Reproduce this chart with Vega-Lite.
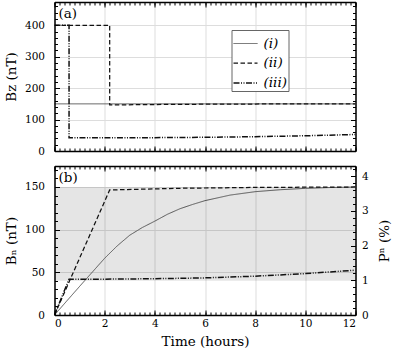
{
  "$schema": "https://vega.github.io/schema/vega-lite/v6.json",
  "padding": {"left": 3.5, "top": 1, "right": 0, "bottom": 0},
  "spacing": 8,
  "datasets": {
    "a": [
      {"s": "(i)", "k": 1, "t": 0, "v": 150},
      {"s": "(i)", "k": 2, "t": 12, "v": 150},
      {"s": "(ii)", "k": 1, "t": 0, "v": 400},
      {"s": "(ii)", "k": 2, "t": 2.2, "v": 400},
      {"s": "(ii)", "k": 3, "t": 2.2, "v": 146.5},
      {"s": "(ii)", "k": 4, "t": 5, "v": 148.5},
      {"s": "(ii)", "k": 5, "t": 8, "v": 149.5},
      {"s": "(ii)", "k": 6, "t": 12, "v": 150},
      {"s": "(iii)", "k": 1, "t": 0, "v": 400},
      {"s": "(iii)", "k": 2, "t": 0.58, "v": 400},
      {"s": "(iii)", "k": 3, "t": 0.58, "v": 42},
      {"s": "(iii)", "k": 4, "t": 2, "v": 42},
      {"s": "(iii)", "k": 5, "t": 4, "v": 42.5},
      {"s": "(iii)", "k": 6, "t": 6, "v": 43.5},
      {"s": "(iii)", "k": 7, "t": 8, "v": 45.5},
      {"s": "(iii)", "k": 8, "t": 10, "v": 48.5},
      {"s": "(iii)", "k": 9, "t": 12, "v": 52.5}
    ],
    "b": [
      {"s": "(i)", "k": 1, "t": 0, "v": 0},
      {"s": "(i)", "k": 2, "t": 0.5, "v": 16.8},
      {"s": "(i)", "k": 3, "t": 1, "v": 33.5},
      {"s": "(i)", "k": 4, "t": 1.5, "v": 50},
      {"s": "(i)", "k": 5, "t": 2, "v": 66.5},
      {"s": "(i)", "k": 6, "t": 2.5, "v": 81},
      {"s": "(i)", "k": 7, "t": 3, "v": 93.5},
      {"s": "(i)", "k": 8, "t": 3.5, "v": 102.5},
      {"s": "(i)", "k": 9, "t": 4, "v": 110},
      {"s": "(i)", "k": 10, "t": 4.5, "v": 118},
      {"s": "(i)", "k": 11, "t": 5, "v": 124.5},
      {"s": "(i)", "k": 12, "t": 5.5, "v": 129.5},
      {"s": "(i)", "k": 13, "t": 6, "v": 134},
      {"s": "(i)", "k": 14, "t": 7, "v": 140.5},
      {"s": "(i)", "k": 15, "t": 8, "v": 144.5},
      {"s": "(i)", "k": 16, "t": 9, "v": 146.8},
      {"s": "(i)", "k": 17, "t": 10, "v": 148.4},
      {"s": "(i)", "k": 18, "t": 11, "v": 149.4},
      {"s": "(i)", "k": 19, "t": 12, "v": 150},
      {"s": "(ii)", "k": 1, "t": 0, "v": 0},
      {"s": "(ii)", "k": 2, "t": 2.2, "v": 146.5},
      {"s": "(ii)", "k": 3, "t": 5, "v": 148.5},
      {"s": "(ii)", "k": 4, "t": 8, "v": 149.5},
      {"s": "(ii)", "k": 5, "t": 12, "v": 150},
      {"s": "(iii)", "k": 1, "t": 0, "v": 0},
      {"s": "(iii)", "k": 2, "t": 0.58, "v": 42},
      {"s": "(iii)", "k": 3, "t": 2, "v": 42},
      {"s": "(iii)", "k": 4, "t": 4, "v": 42.5},
      {"s": "(iii)", "k": 5, "t": 6, "v": 43.5},
      {"s": "(iii)", "k": 6, "t": 8, "v": 45.5},
      {"s": "(iii)", "k": 7, "t": 10, "v": 48.5},
      {"s": "(iii)", "k": 8, "t": 12, "v": 52.5}
    ],
    "band": [{"t0": 0, "t1": 12, "lo": 40, "hi": 150}]
  },
  "vconcat": [
    {
      "width": 301,
      "height": 149,
      "title": {"text": "(a)", "anchor": "start", "frame": "group", "offset": -19, "dx": 4},
      "layer": [
        {
          "data": {"name": "a"},
          "mark": {"type": "line", "clip": true},
          "encoding": {
            "x": {"field": "t", "type": "quantitative", "scale": {"domain": [0, 12], "nice": false, "zero": false},
              "axis": {"orient": "bottom", "values": [0, 2, 4, 6, 8, 10, 12], "labels": false, "tickSize": -5, "grid": true, "domain": false, "title": null}},
            "y": {"field": "v", "type": "quantitative", "scale": {"domain": [0, 474], "nice": false},
              "axis": {"orient": "left", "values": [0, 100, 200, 300, 400], "tickSize": -5, "labelPadding": 15, "grid": true, "domain": false, "title": "Bz (nT)", "titlePadding": 6, "titleFontWeight": "normal"}},
            "order": {"field": "k", "type": "quantitative"},
            "color": {"field": "s", "type": "nominal", "scale": {"domain": ["(i)", "(ii)", "(iii)"], "range": ["#555555", "#111111", "#111111"]},
              "legend": {"orient": "none", "legendX": 177, "legendY": 28, "title": null}},
            "strokeDash": {"field": "s", "type": "nominal", "scale": {"domain": ["(i)", "(ii)", "(iii)"], "range": [[1, 0], [4.5, 2.5], [6, 1.5, 1, 1.5, 1, 1.5]]}},
            "strokeWidth": {"field": "s", "type": "nominal", "scale": {"domain": ["(i)", "(ii)", "(iii)"], "range": [1, 1.5, 1.3]}, "legend": null}
          }
        },
        {
          "data": {"name": "a"},
          "mark": {"type": "point", "opacity": 0, "size": 0, "clip": true},
          "encoding": {
            "x": {"field": "t", "type": "quantitative", "scale": {"domain": [0, 12], "nice": false, "zero": false},
              "axis": {"orient": "bottom", "values": [0,0.2,0.4,0.6,0.8,1,1.2,1.4,1.6,1.8,2,2.2,2.4,2.6,2.8,3,3.2,3.4,3.6,3.8,4,4.2,4.4,4.6,4.8,5,5.2,5.4,5.6,5.8,6,6.2,6.4,6.6,6.8,7,7.2,7.4,7.6,7.8,8,8.2,8.4,8.6,8.8,9,9.2,9.4,9.6,9.8,10,10.2,10.4,10.6,10.8,11,11.2,11.4,11.6,11.8,12], "labels": false, "tickSize": -3, "grid": false, "domain": true, "title": null, "zindex": 1}},
            "y": {"field": "v", "type": "quantitative", "scale": {"domain": [0, 474], "nice": false},
              "axis": {"orient": "left", "values": [0,20,40,60,80,100,120,140,160,180,200,220,240,260,280,300,320,340,360,380,400,420,440,460], "labels": false, "tickSize": -3, "grid": false, "domain": true, "title": null, "zindex": 1}}
          }
        },
        {
          "data": {"name": "a"},
          "mark": {"type": "point", "opacity": 0, "size": 0, "clip": true},
          "encoding": {
            "x": {"field": "t", "type": "quantitative", "scale": {"domain": [0, 12], "nice": false, "zero": false},
              "axis": {"orient": "top", "values": [0, 2, 4, 6, 8, 10, 12], "labels": false, "tickSize": -5, "grid": false, "domain": true, "title": null, "zindex": 1}},
            "y": {"field": "v", "type": "quantitative", "scale": {"domain": [0, 474], "nice": false},
              "axis": {"orient": "right", "values": [0, 100, 200, 300, 400], "labels": false, "tickSize": -5, "grid": false, "domain": true, "title": null, "zindex": 1}}
          }
        },
        {
          "data": {"name": "a"},
          "mark": {"type": "point", "opacity": 0, "size": 0, "clip": true},
          "encoding": {
            "x": {"field": "t", "type": "quantitative", "scale": {"domain": [0, 12], "nice": false, "zero": false},
              "axis": {"orient": "top", "values": [0,0.2,0.4,0.6,0.8,1,1.2,1.4,1.6,1.8,2,2.2,2.4,2.6,2.8,3,3.2,3.4,3.6,3.8,4,4.2,4.4,4.6,4.8,5,5.2,5.4,5.6,5.8,6,6.2,6.4,6.6,6.8,7,7.2,7.4,7.6,7.8,8,8.2,8.4,8.6,8.8,9,9.2,9.4,9.6,9.8,10,10.2,10.4,10.6,10.8,11,11.2,11.4,11.6,11.8,12], "labels": false, "tickSize": -3, "grid": false, "domain": false, "title": null, "zindex": 1}},
            "y": {"field": "v", "type": "quantitative", "scale": {"domain": [0, 474], "nice": false},
              "axis": {"orient": "right", "values": [0,20,40,60,80,100,120,140,160,180,200,220,240,260,280,300,320,340,360,380,400,420,440,460], "labels": false, "tickSize": -3, "grid": false, "domain": false, "title": null, "zindex": 1}}
          }
        }
      ],
      "resolve": {"scale": {"x": "independent", "y": "independent"}, "axis": {"x": "independent", "y": "independent"}}
    },
    {
      "width": 301,
      "height": 149,
      "title": {"text": "(b)", "anchor": "start", "frame": "group", "offset": -19, "dx": 4},
      "layer": [
        {
          "data": {"name": "band"},
          "mark": {"type": "rect", "color": "#000000", "opacity": 0.1},
          "encoding": {
            "x": {"field": "t0", "type": "quantitative", "scale": {"domain": [0, 12], "nice": false, "zero": false}, "axis": null},
            "x2": {"field": "t1"},
            "y": {"field": "lo", "type": "quantitative", "scale": {"domain": [0, 174.6], "nice": false}, "axis": null},
            "y2": {"field": "hi"}
          }
        },
        {
          "data": {"name": "b"},
          "mark": {"type": "line", "clip": true},
          "encoding": {
            "x": {"field": "t", "type": "quantitative", "scale": {"domain": [0, 12], "nice": false, "zero": false},
              "axis": {"orient": "bottom", "values": [0, 2, 4, 6, 8, 10, 12], "tickSize": -5, "labelPadding": 8, "grid": true, "domain": false, "title": "Time (hours)", "titlePadding": 6, "titleFontWeight": "normal"}},
            "y": {"field": "v", "type": "quantitative", "scale": {"domain": [0, 174.6], "nice": false},
              "axis": {"orient": "left", "values": [0, 50, 100, 150], "tickSize": -5, "labelPadding": 15, "grid": true, "domain": false, "title": "Bₙ (nT)", "titlePadding": 6, "titleFontWeight": "normal"}},
            "order": {"field": "k", "type": "quantitative"},
            "color": {"field": "s", "type": "nominal", "scale": {"domain": ["(i)", "(ii)", "(iii)"], "range": ["#555555", "#111111", "#111111"]}, "legend": null},
            "strokeDash": {"field": "s", "type": "nominal", "scale": {"domain": ["(i)", "(ii)", "(iii)"], "range": [[1, 0], [4.5, 2.5], [6, 1.5, 1, 1.5, 1, 1.5]]}, "legend": null},
            "strokeWidth": {"field": "s", "type": "nominal", "scale": {"domain": ["(i)", "(ii)", "(iii)"], "range": [1, 1.5, 1.3]}, "legend": null}
          }
        },
        {
          "data": {"name": "b"},
          "mark": {"type": "point", "opacity": 0, "size": 0, "clip": true},
          "encoding": {
            "x": {"field": "t", "type": "quantitative", "scale": {"domain": [0, 12], "nice": false, "zero": false},
              "axis": {"orient": "bottom", "values": [0,0.2,0.4,0.6,0.8,1,1.2,1.4,1.6,1.8,2,2.2,2.4,2.6,2.8,3,3.2,3.4,3.6,3.8,4,4.2,4.4,4.6,4.8,5,5.2,5.4,5.6,5.8,6,6.2,6.4,6.6,6.8,7,7.2,7.4,7.6,7.8,8,8.2,8.4,8.6,8.8,9,9.2,9.4,9.6,9.8,10,10.2,10.4,10.6,10.8,11,11.2,11.4,11.6,11.8,12], "labels": false, "tickSize": -3, "grid": false, "domain": true, "title": null, "zindex": 1}},
            "y": {"field": "v", "type": "quantitative", "scale": {"domain": [0, 174.6], "nice": false},
              "axis": {"orient": "left", "values": [0,10,20,30,40,50,60,70,80,90,100,110,120,130,140,150,160,170], "labels": false, "tickSize": -3, "grid": false, "domain": true, "title": null, "zindex": 1}}
          }
        },
        {
          "data": {"name": "b"},
          "mark": {"type": "point", "opacity": 0, "size": 0, "clip": true},
          "encoding": {
            "x": {"field": "t", "type": "quantitative", "scale": {"domain": [0, 12], "nice": false, "zero": false},
              "axis": {"orient": "top", "values": [0, 2, 4, 6, 8, 10, 12], "labels": false, "tickSize": -5, "grid": false, "domain": true, "title": null, "zindex": 1}},
            "y": {"field": "v", "type": "quantitative", "scale": {"domain": [0, 4.29], "nice": false},
              "axis": {"orient": "right", "values": [0, 1, 2, 3, 4], "tickSize": -5, "labelPadding": 11, "grid": false, "domain": true, "title": "Pⁿ (%)", "titleAngle": 270, "titleBaseline": "top", "titlePadding": 9, "titleFontWeight": "normal", "zindex": 1}}
          }
        },
        {
          "data": {"name": "b"},
          "mark": {"type": "point", "opacity": 0, "size": 0, "clip": true},
          "encoding": {
            "x": {"field": "t", "type": "quantitative", "scale": {"domain": [0, 12], "nice": false, "zero": false},
              "axis": {"orient": "top", "values": [0,0.2,0.4,0.6,0.8,1,1.2,1.4,1.6,1.8,2,2.2,2.4,2.6,2.8,3,3.2,3.4,3.6,3.8,4,4.2,4.4,4.6,4.8,5,5.2,5.4,5.6,5.8,6,6.2,6.4,6.6,6.8,7,7.2,7.4,7.6,7.8,8,8.2,8.4,8.6,8.8,9,9.2,9.4,9.6,9.8,10,10.2,10.4,10.6,10.8,11,11.2,11.4,11.6,11.8,12], "labels": false, "tickSize": -3, "grid": false, "domain": false, "title": null, "zindex": 1}},
            "y": {"field": "v", "type": "quantitative", "scale": {"domain": [0, 4.29], "nice": false},
              "axis": {"orient": "right", "values": [0,0.2,0.4,0.6,0.8,1,1.2,1.4,1.6,1.8,2,2.2,2.4,2.6,2.8,3,3.2,3.4,3.6,3.8,4,4.2], "labels": false, "tickSize": -3, "grid": false, "domain": false, "title": null, "zindex": 1}}
          }
        }
      ],
      "resolve": {"scale": {"x": "independent", "y": "independent"}, "axis": {"x": "independent", "y": "independent"}}
    }
  ],
  "config": {
    "font": "DejaVu Serif",
    "view": {"stroke": null},
    "axis": {
      "labelFont": "DejaVu Serif", "titleFont": "DejaVu Serif",
      "labelFontSize": 10.5, "titleFontSize": 13.5, "titleFontWeight": "normal",
      "labelColor": "#000000", "titleColor": "#000000",
      "domainColor": "#000000", "domainWidth": 1.5,
      "tickColor": "#000000", "tickWidth": 1,
      "gridColor": "#dddddd", "gridWidth": 1
    },
    "title": {"font": "DejaVu Serif", "fontSize": 13.5, "fontWeight": "normal", "color": "#000000"},
    "legend": {
      "fillColor": "#ffffff", "strokeColor": "#666666", "padding": 1,
      "labelFont": "DejaVu Serif", "labelFontSize": 13.5, "labelFontStyle": "italic", "labelColor": "#000000",
      "symbolType": "stroke", "symbolSize": 576, "symbolStrokeWidth": 1.3, "rowPadding": -3, "labelOffset": 5
    }
  }
}
